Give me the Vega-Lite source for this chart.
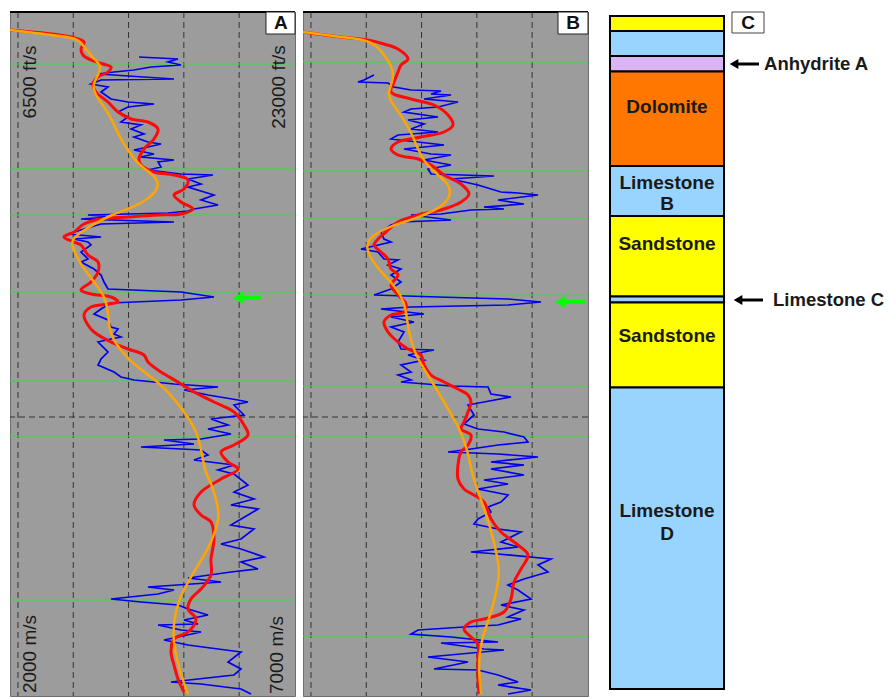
{
"$schema": "https://vega.github.io/schema/vega-lite/v6.json",
"background": "white",
"padding": {"left": 3, "top": 10, "right": 0, "bottom": 0},
"autosize": {"type": "pad"},
"config": {"view": {"stroke": null}, "font": "Liberation Sans", "axis": {"labels": false, "domain": false, "grid": false, "ticks": true, "tickColor": "#555555", "tickSize": 4, "tickWidth": 1}},
"datasets": {
"grid": [{"v":2140},{"v":3110},{"v":4080},{"v":5050},{"v":6020}],
"greenA": [{"d":52},{"d":157},{"d":203},{"d":280},{"d":369},{"d":424},{"d":588}],
"greenB": [{"d":50},{"d":159},{"d":206},{"d":283},{"d":374},{"d":424},{"d":624}],
"marker": [{"d":405}],
"orangeA": [{"v":2000,"d":18},{"v":3070,"d":25},{"v":3211,"d":28},{"v":3333,"d":37},{"v":3474,"d":47},{"v":3597,"d":53},{"v":3561,"d":62},{"v":3474,"d":70},{"v":3456,"d":77},{"v":3544,"d":87},{"v":3719,"d":100},{"v":3860,"d":117},{"v":4000,"d":133},{"v":4175,"d":147},{"v":4351,"d":157},{"v":4526,"d":163},{"v":4614,"d":172},{"v":4561,"d":180},{"v":4351,"d":190},{"v":4070,"d":197},{"v":3772,"d":203},{"v":3474,"d":212},{"v":3246,"d":220},{"v":3070,"d":228},{"v":3105,"d":237},{"v":3246,"d":253},{"v":3474,"d":270},{"v":3649,"d":283},{"v":3719,"d":297},{"v":3737,"d":317},{"v":3825,"d":330},{"v":4070,"d":347},{"v":4351,"d":360},{"v":4597,"d":370},{"v":4825,"d":383},{"v":5053,"d":400},{"v":5211,"d":413},{"v":5316,"d":427},{"v":5386,"d":447},{"v":5421,"d":460},{"v":5526,"d":470},{"v":5649,"d":493},{"v":5667,"d":507},{"v":5579,"d":523},{"v":5474,"d":537},{"v":5298,"d":553},{"v":5123,"d":570},{"v":4965,"d":587},{"v":4877,"d":607},{"v":4860,"d":627},{"v":4912,"d":643},{"v":5000,"d":663},{"v":5123,"d":682}],
"redA": [{"v":2000,"d":18},{"v":3070,"d":25},{"v":3298,"d":30},{"v":3246,"d":37},{"v":3281,"d":43},{"v":3421,"d":48},{"v":3632,"d":52},{"v":3772,"d":55},{"v":3719,"d":60},{"v":3544,"d":65},{"v":3456,"d":72},{"v":3509,"d":80},{"v":3719,"d":90},{"v":3895,"d":100},{"v":4123,"d":107},{"v":4421,"d":110},{"v":4597,"d":117},{"v":4526,"d":127},{"v":4351,"d":137},{"v":4263,"d":147},{"v":4298,"d":153},{"v":4526,"d":160},{"v":4877,"d":163},{"v":5123,"d":168},{"v":5053,"d":177},{"v":4877,"d":183},{"v":5000,"d":190},{"v":5211,"d":197},{"v":5000,"d":202},{"v":4597,"d":203},{"v":4070,"d":205},{"v":3597,"d":207},{"v":3298,"d":212},{"v":3123,"d":220},{"v":2947,"d":225},{"v":3123,"d":230},{"v":3246,"d":233},{"v":3368,"d":243},{"v":3544,"d":250},{"v":3544,"d":260},{"v":3421,"d":270},{"v":3246,"d":278},{"v":3421,"d":282},{"v":3772,"d":285},{"v":3895,"d":290},{"v":3719,"d":292},{"v":3421,"d":295},{"v":3298,"d":303},{"v":3368,"d":313},{"v":3474,"d":320},{"v":3772,"d":330},{"v":4070,"d":337},{"v":4351,"d":343},{"v":4421,"d":350},{"v":4649,"d":360},{"v":4947,"d":370},{"v":5228,"d":380},{"v":5579,"d":390},{"v":5930,"d":400},{"v":6105,"d":413},{"v":6175,"d":423},{"v":5930,"d":433},{"v":5702,"d":440},{"v":5825,"d":450},{"v":6000,"d":457},{"v":5702,"d":467},{"v":5351,"d":480},{"v":5228,"d":493},{"v":5351,"d":503},{"v":5526,"d":510},{"v":5579,"d":527},{"v":5526,"d":547},{"v":5526,"d":563},{"v":5351,"d":577},{"v":5175,"d":587},{"v":5123,"d":597},{"v":5263,"d":607},{"v":5123,"d":620},{"v":4877,"d":627},{"v":4825,"d":640},{"v":4877,"d":653},{"v":4947,"d":667},{"v":5053,"d":680}],
"blueA": [{"v":4263,"d":45},{"v":4947,"d":47},{"v":4772,"d":50},{"v":5000,"d":53},{"v":4474,"d":55},{"v":4175,"d":58},{"v":3825,"d":60},{"v":3544,"d":62},{"v":4877,"d":67},{"v":3597,"d":68},{"v":3421,"d":72},{"v":3719,"d":75},{"v":3597,"d":80},{"v":3772,"d":87},{"v":4070,"d":90},{"v":4526,"d":92},{"v":4070,"d":95},{"v":3895,"d":100},{"v":4070,"d":105},{"v":3947,"d":110},{"v":4298,"d":113},{"v":4123,"d":117},{"v":4351,"d":122},{"v":4175,"d":125},{"v":4421,"d":130},{"v":4649,"d":132},{"v":4421,"d":135},{"v":4175,"d":138},{"v":4526,"d":142},{"v":4298,"d":145},{"v":4877,"d":148},{"v":4597,"d":150},{"v":4649,"d":155},{"v":4421,"d":158},{"v":5000,"d":162},{"v":5561,"d":163},{"v":5123,"d":167},{"v":5351,"d":172},{"v":5123,"d":175},{"v":5579,"d":183},{"v":5351,"d":188},{"v":5649,"d":193},{"v":5228,"d":197},{"v":5123,"d":199},{"v":4772,"d":201},{"v":4070,"d":202},{"v":3368,"d":203},{"v":3772,"d":205},{"v":3246,"d":207},{"v":4877,"d":210},{"v":3597,"d":212},{"v":3298,"d":217},{"v":3018,"d":222},{"v":3597,"d":225},{"v":3123,"d":227},{"v":3368,"d":230},{"v":3421,"d":233},{"v":3246,"d":240},{"v":3368,"d":247},{"v":3246,"d":250},{"v":3474,"d":257},{"v":3597,"d":263},{"v":3649,"d":270},{"v":3719,"d":277},{"v":5000,"d":280},{"v":5579,"d":285},{"v":5000,"d":288},{"v":4175,"d":290},{"v":3772,"d":291},{"v":3597,"d":297},{"v":3474,"d":302},{"v":3719,"d":308},{"v":3772,"d":315},{"v":3895,"d":317},{"v":3825,"d":322},{"v":3947,"d":325},{"v":3772,"d":327},{"v":3544,"d":330},{"v":3719,"d":340},{"v":3597,"d":347},{"v":3544,"d":353},{"v":3825,"d":360},{"v":3947,"d":365},{"v":4175,"d":368},{"v":4877,"d":372},{"v":5649,"d":375},{"v":5053,"d":378},{"v":5474,"d":383},{"v":6000,"d":388},{"v":6175,"d":390},{"v":5930,"d":393},{"v":6105,"d":403},{"v":5526,"d":407},{"v":5825,"d":413},{"v":5474,"d":417},{"v":5877,"d":422},{"v":5351,"d":427},{"v":4702,"d":428},{"v":5228,"d":432},{"v":4298,"d":435},{"v":5351,"d":438},{"v":5474,"d":443},{"v":5228,"d":448},{"v":5930,"d":453},{"v":5649,"d":458},{"v":5930,"d":462},{"v":6175,"d":473},{"v":5930,"d":480},{"v":6281,"d":487},{"v":5877,"d":493},{"v":6351,"d":497},{"v":6175,"d":503},{"v":5877,"d":513},{"v":6281,"d":517},{"v":6053,"d":527},{"v":5702,"d":532},{"v":6053,"d":537},{"v":6456,"d":545},{"v":6053,"d":550},{"v":6351,"d":557},{"v":5877,"d":560},{"v":5123,"d":566},{"v":5702,"d":570},{"v":4421,"d":575},{"v":4877,"d":578},{"v":4597,"d":582},{"v":3772,"d":587},{"v":4298,"d":590},{"v":4947,"d":593},{"v":5123,"d":597},{"v":5474,"d":603},{"v":5053,"d":608},{"v":5298,"d":612},{"v":4597,"d":613},{"v":5000,"d":618},{"v":5351,"d":620},{"v":4702,"d":628},{"v":5123,"d":633},{"v":5649,"d":637},{"v":6053,"d":640},{"v":5825,"d":650},{"v":6053,"d":657},{"v":5930,"d":663},{"v":4825,"d":670},{"v":5351,"d":672},{"v":6053,"d":677},{"v":6228,"d":682}],
"orangeB": [{"v":2000,"d":20},{"v":2667,"d":25},{"v":3140,"d":28},{"v":3316,"d":35},{"v":3421,"d":43},{"v":3544,"d":53},{"v":3597,"d":63},{"v":3544,"d":73},{"v":3491,"d":82},{"v":3544,"d":90},{"v":3719,"d":103},{"v":3895,"d":120},{"v":4018,"d":137},{"v":4123,"d":150},{"v":4368,"d":163},{"v":4561,"d":172},{"v":4597,"d":183},{"v":4474,"d":193},{"v":4246,"d":200},{"v":3947,"d":207},{"v":3597,"d":213},{"v":3316,"d":220},{"v":3158,"d":227},{"v":3105,"d":235},{"v":3193,"d":247},{"v":3368,"d":260},{"v":3544,"d":270},{"v":3719,"d":283},{"v":3807,"d":297},{"v":3842,"d":317},{"v":3947,"d":340},{"v":4123,"d":357},{"v":4298,"d":373},{"v":4474,"d":390},{"v":4649,"d":407},{"v":4772,"d":420},{"v":4895,"d":440},{"v":4947,"d":458},{"v":5070,"d":480},{"v":5246,"d":507},{"v":5351,"d":530},{"v":5439,"d":553},{"v":5439,"d":567},{"v":5351,"d":590},{"v":5246,"d":610},{"v":5158,"d":623},{"v":5088,"d":643},{"v":5088,"d":663},{"v":5123,"d":682}],
"redB": [{"v":2000,"d":20},{"v":2667,"d":25},{"v":3140,"d":28},{"v":3421,"d":32},{"v":3667,"d":37},{"v":3842,"d":47},{"v":3719,"d":53},{"v":3667,"d":60},{"v":3597,"d":70},{"v":3544,"d":80},{"v":3895,"d":87},{"v":4298,"d":93},{"v":4544,"d":103},{"v":4632,"d":113},{"v":4474,"d":120},{"v":4070,"d":125},{"v":3667,"d":130},{"v":3544,"d":137},{"v":3667,"d":143},{"v":4018,"d":147},{"v":4246,"d":153},{"v":4474,"d":163},{"v":4772,"d":172},{"v":4912,"d":182},{"v":4772,"d":190},{"v":4474,"d":197},{"v":4018,"d":203},{"v":3667,"d":210},{"v":3456,"d":220},{"v":3316,"d":227},{"v":3246,"d":233},{"v":3368,"d":240},{"v":3491,"d":247},{"v":3544,"d":257},{"v":3667,"d":263},{"v":3544,"d":273},{"v":3667,"d":283},{"v":3807,"d":292},{"v":3772,"d":300},{"v":3544,"d":303},{"v":3421,"d":310},{"v":3491,"d":320},{"v":3667,"d":330},{"v":3842,"d":337},{"v":4070,"d":343},{"v":4123,"d":353},{"v":4246,"d":363},{"v":4474,"d":370},{"v":4719,"d":377},{"v":4895,"d":383},{"v":4947,"d":390},{"v":4895,"d":400},{"v":4825,"d":410},{"v":4772,"d":417},{"v":4947,"d":423},{"v":4895,"d":433},{"v":4772,"d":440},{"v":4719,"d":453},{"v":4719,"d":467},{"v":4825,"d":477},{"v":5000,"d":483},{"v":5175,"d":490},{"v":5298,"d":507},{"v":5474,"d":520},{"v":5772,"d":533},{"v":5947,"d":543},{"v":5825,"d":557},{"v":5702,"d":570},{"v":5649,"d":587},{"v":5526,"d":600},{"v":5175,"d":607},{"v":4947,"d":610},{"v":4825,"d":617},{"v":4947,"d":625},{"v":5070,"d":632},{"v":5070,"d":647},{"v":5070,"d":667},{"v":5088,"d":682}],
"blueB": [{"v":3246,"d":63},{"v":3070,"d":68},{"v":2965,"d":70},{"v":3491,"d":71},{"v":3597,"d":75},{"v":3895,"d":78},{"v":4421,"d":79},{"v":4246,"d":82},{"v":4597,"d":83},{"v":4123,"d":87},{"v":4719,"d":90},{"v":4368,"d":95},{"v":3895,"d":97},{"v":3772,"d":100},{"v":4368,"d":105},{"v":3842,"d":108},{"v":4123,"d":112},{"v":3895,"d":117},{"v":4368,"d":120},{"v":3667,"d":123},{"v":3544,"d":127},{"v":4018,"d":130},{"v":4474,"d":133},{"v":3772,"d":137},{"v":4246,"d":142},{"v":4597,"d":143},{"v":4123,"d":148},{"v":4597,"d":153},{"v":4193,"d":157},{"v":4246,"d":162},{"v":5351,"d":164},{"v":4597,"d":167},{"v":5070,"d":173},{"v":5298,"d":177},{"v":5474,"d":180},{"v":5772,"d":181},{"v":6123,"d":183},{"v":5421,"d":188},{"v":5877,"d":192},{"v":5175,"d":195},{"v":5526,"d":197},{"v":4947,"d":198},{"v":4421,"d":202},{"v":3895,"d":203},{"v":4597,"d":208},{"v":3719,"d":210},{"v":3544,"d":213},{"v":3368,"d":220},{"v":3421,"d":227},{"v":3544,"d":230},{"v":3018,"d":237},{"v":3316,"d":240},{"v":3421,"d":247},{"v":3667,"d":248},{"v":3491,"d":253},{"v":3719,"d":257},{"v":3544,"d":263},{"v":3719,"d":270},{"v":3544,"d":277},{"v":3246,"d":283},{"v":4368,"d":285},{"v":5597,"d":287},{"v":6175,"d":290},{"v":5597,"d":293},{"v":3895,"d":295},{"v":3368,"d":297},{"v":4123,"d":302},{"v":3544,"d":305},{"v":3947,"d":310},{"v":3544,"d":315},{"v":3772,"d":320},{"v":3667,"d":330},{"v":3719,"d":337},{"v":4298,"d":338},{"v":3842,"d":343},{"v":4123,"d":348},{"v":3719,"d":353},{"v":3895,"d":360},{"v":3667,"d":363},{"v":3895,"d":368},{"v":3719,"d":370},{"v":4597,"d":374},{"v":5246,"d":375},{"v":5298,"d":382},{"v":5649,"d":385},{"v":5175,"d":390},{"v":4895,"d":393},{"v":5000,"d":403},{"v":4825,"d":412},{"v":5070,"d":417},{"v":5526,"d":420},{"v":5877,"d":425},{"v":5947,"d":430},{"v":5421,"d":433},{"v":4947,"d":437},{"v":4544,"d":440},{"v":5421,"d":442},{"v":6123,"d":445},{"v":5298,"d":450},{"v":5877,"d":453},{"v":5298,"d":457},{"v":5877,"d":463},{"v":5175,"d":468},{"v":5597,"d":472},{"v":5070,"d":477},{"v":5597,"d":483},{"v":5474,"d":490},{"v":5246,"d":495},{"v":5298,"d":500},{"v":5070,"d":507},{"v":5000,"d":512},{"v":5421,"d":517},{"v":5825,"d":520},{"v":5474,"d":530},{"v":5772,"d":535},{"v":4947,"d":540},{"v":5421,"d":542},{"v":6351,"d":547},{"v":6123,"d":553},{"v":6298,"d":560},{"v":5877,"d":567},{"v":5597,"d":573},{"v":5772,"d":578},{"v":6000,"d":587},{"v":5474,"d":593},{"v":5877,"d":598},{"v":5597,"d":605},{"v":5825,"d":607},{"v":5421,"d":613},{"v":4825,"d":615},{"v":4018,"d":618},{"v":3895,"d":622},{"v":4597,"d":625},{"v":5421,"d":630},{"v":4421,"d":631},{"v":5175,"d":637},{"v":5526,"d":638},{"v":4193,"d":645},{"v":4895,"d":650},{"v":4298,"d":657},{"v":5070,"d":658},{"v":5421,"d":663},{"v":5772,"d":670},{"v":5421,"d":673},{"v":6000,"d":678},{"v":5597,"d":682}],
"scaleLabels": [{"t":"6500 ft/s","v":2351,"d":70},{"t":"23000 ft/s","v":6719,"d":75},{"t":"2000 m/s","v":2351,"d":642},{"t":"7000 m/s","v":6684,"d":643}],
"litho": [{"lith":"Sandstone","top":4,"base":19},{"lith":"Limestone","top":19,"base":44},{"lith":"Anhydrite","top":44,"base":59.5},{"lith":"Dolomite","top":59.5,"base":154},{"lith":"Limestone","top":154,"base":204},{"lith":"Sandstone","top":204,"base":284.5},{"lith":"Limestone","top":284.5,"base":290.5},{"lith":"Sandstone","top":290.5,"base":375.5},{"lith":"Limestone","top":375.5,"base":677}],
"lithoLabels": [{"t":"Dolomite","d":95},{"t":"Limestone","d":171},{"t":"B","d":192},{"t":"Sandstone","d":232},{"t":"Sandstone","d":324},{"t":"Limestone","d":499},{"t":"D","d":522}]
},
"spacing": 8,
"bounds": "flush",
"resolve": {"scale": {"x": "independent", "y": "independent", "color": "independent"}},
"hconcat": [
{
"width": 285, "height": 684,
"view": {"fill": "#9c9c9c", "stroke": "#6e6e6e"},
"layer": [
{"data": {"name": "grid"}, "mark": {"type": "rule", "color": "#333333", "strokeWidth": 1, "strokeDash": [6, 4]},
 "encoding": {"x": {"field": "v", "type": "quantitative", "title": null, "scale": {"domain": [2000, 7000], "nice": false, "zero": false}, "axis": {"orient": "bottom", "values": [2140, 2625, 3110, 3595, 4080, 4565, 5050, 5535, 6020, 6505], "tickSize": 3}}}},
{"data": {"name": "greenA"}, "mark": {"type": "rule", "color": "#3ed63e", "strokeWidth": 1},
 "encoding": {"y": {"field": "d", "type": "quantitative", "title": null, "scale": {"domain": [0, 684], "reverse": true, "nice": false, "zero": false}, "axis": {"orient": "right", "values": [4.4,18.2,32,45.8,59.6,73.4,87.2,101,114.8,128.6,142.4,156.2,170,183.8,197.6,211.4,225.2,239,252.8,266.6,280.4,294.2,308,321.8,335.6,349.4,363.2,377,390.8,404.6,418.4,432.2,446,459.8,473.6,487.4,501.2,515,528.8,542.6,556.4,570.2,584,597.8,611.6,625.4,639.2,653,666.8,680.6]}}}},
{"data": {"name": "marker"}, "mark": {"type": "rule", "color": "#333333", "strokeWidth": 1, "strokeDash": [6, 4]},
 "encoding": {"y": {"field": "d", "type": "quantitative", "title": null, "axis": null}}},
{"data": {"name": "marker"}, "mark": {"type": "rule", "color": "#000000", "strokeWidth": 2},
 "encoding": {"y": {"datum": 0, "type": "quantitative", "axis": null}}},
{"data": {"name": "blueA"}, "mark": {"type": "line", "color": "#0000ee", "strokeWidth": 1.7},
 "encoding": {"x": {"field": "v", "type": "quantitative", "axis": null}, "y": {"field": "d", "type": "quantitative", "axis": null}, "order": {"field": "d"}}},
{"data": {"name": "redA"}, "mark": {"type": "line", "color": "#ff0a0a", "strokeWidth": 3, "interpolate": "catmull-rom"},
 "encoding": {"x": {"field": "v", "type": "quantitative", "axis": null}, "y": {"field": "d", "type": "quantitative", "axis": null}, "order": {"field": "d"}}},
{"data": {"name": "orangeA"}, "mark": {"type": "line", "color": "#ffa500", "strokeWidth": 2.5, "interpolate": "basis"},
 "encoding": {"x": {"field": "v", "type": "quantitative", "axis": null}, "y": {"field": "d", "type": "quantitative", "axis": null}, "order": {"field": "d"}}},
{"data": {"name": "marker"}, "mark": {"type": "rule", "color": "#00ff00", "strokeWidth": 4},
 "encoding": {"x": {"datum": 6053, "type": "quantitative", "axis": null}, "x2": {"datum": 6404}, "y": {"datum": 286, "type": "quantitative", "axis": null}}},
{"data": {"name": "marker"}, "mark": {"type": "point", "shape": "triangle-left", "filled": true, "color": "#00ff00", "size": 140, "opacity": 1},
 "encoding": {"x": {"datum": 6000, "type": "quantitative", "axis": null}, "y": {"datum": 286, "type": "quantitative", "axis": null}}},
{"data": {"name": "marker"}, "mark": {"type": "rect", "fill": "white", "stroke": "#222222", "strokeWidth": 1},
 "encoding": {"x": {"datum": 6491, "type": "quantitative", "axis": null}, "x2": {"datum": 7000}, "y": {"datum": 0, "type": "quantitative", "axis": null}, "y2": {"datum": 22}}},
{"data": {"name": "marker"}, "mark": {"type": "text", "text": "A", "fontSize": 19, "fontWeight": "bold", "color": "#111111", "align": "center", "baseline": "middle"},
 "encoding": {"x": {"datum": 6754, "type": "quantitative", "axis": null}, "y": {"datum": 11, "type": "quantitative", "axis": null}}},
{"data": {"name": "scaleLabels"}, "mark": {"type": "text", "angle": 270, "fontSize": 19, "color": "#1a1a1a", "align": "center", "baseline": "middle"},
 "encoding": {"x": {"field": "v", "type": "quantitative", "axis": null}, "y": {"field": "d", "type": "quantitative", "axis": null}, "text": {"field": "t"}}}
]
},
{
"width": 285, "height": 684,
"view": {"fill": "#9c9c9c", "stroke": "#6e6e6e"},
"layer": [
{"data": {"name": "grid"}, "mark": {"type": "rule", "color": "#333333", "strokeWidth": 1, "strokeDash": [6, 4]},
 "encoding": {"x": {"field": "v", "type": "quantitative", "title": null, "scale": {"domain": [2000, 7000], "nice": false, "zero": false}, "axis": {"orient": "bottom", "values": [2140, 2625, 3110, 3595, 4080, 4565, 5050, 5535, 6020, 6505], "tickSize": 3}}}},
{"data": {"name": "greenB"}, "mark": {"type": "rule", "color": "#3ed63e", "strokeWidth": 1},
 "encoding": {"y": {"field": "d", "type": "quantitative", "title": null, "scale": {"domain": [0, 684], "reverse": true, "nice": false, "zero": false}, "axis": {"orient": "right", "values": [4.4,18.2,32,45.8,59.6,73.4,87.2,101,114.8,128.6,142.4,156.2,170,183.8,197.6,211.4,225.2,239,252.8,266.6,280.4,294.2,308,321.8,335.6,349.4,363.2,377,390.8,404.6,418.4,432.2,446,459.8,473.6,487.4,501.2,515,528.8,542.6,556.4,570.2,584,597.8,611.6,625.4,639.2,653,666.8,680.6]}}}},
{"data": {"name": "marker"}, "mark": {"type": "rule", "color": "#333333", "strokeWidth": 1, "strokeDash": [6, 4]},
 "encoding": {"y": {"field": "d", "type": "quantitative", "title": null, "axis": null}}},
{"data": {"name": "marker"}, "mark": {"type": "rule", "color": "#000000", "strokeWidth": 2},
 "encoding": {"y": {"datum": 0, "type": "quantitative", "axis": null}}},
{"data": {"name": "blueB"}, "mark": {"type": "line", "color": "#0000ee", "strokeWidth": 1.7},
 "encoding": {"x": {"field": "v", "type": "quantitative", "axis": null}, "y": {"field": "d", "type": "quantitative", "axis": null}, "order": {"field": "d"}}},
{"data": {"name": "redB"}, "mark": {"type": "line", "color": "#ff0a0a", "strokeWidth": 3, "interpolate": "catmull-rom"},
 "encoding": {"x": {"field": "v", "type": "quantitative", "axis": null}, "y": {"field": "d", "type": "quantitative", "axis": null}, "order": {"field": "d"}}},
{"data": {"name": "orangeB"}, "mark": {"type": "line", "color": "#ffa500", "strokeWidth": 2.5, "interpolate": "basis"},
 "encoding": {"x": {"field": "v", "type": "quantitative", "axis": null}, "y": {"field": "d", "type": "quantitative", "axis": null}, "order": {"field": "d"}}},
{"data": {"name": "marker"}, "mark": {"type": "rule", "color": "#00ff00", "strokeWidth": 4},
 "encoding": {"x": {"datum": 6561, "type": "quantitative", "axis": null}, "x2": {"datum": 6965}, "y": {"datum": 290, "type": "quantitative", "axis": null}}},
{"data": {"name": "marker"}, "mark": {"type": "point", "shape": "triangle-left", "filled": true, "color": "#00ff00", "size": 140, "opacity": 1},
 "encoding": {"x": {"datum": 6509, "type": "quantitative", "axis": null}, "y": {"datum": 290, "type": "quantitative", "axis": null}}},
{"data": {"name": "marker"}, "mark": {"type": "rect", "fill": "white", "stroke": "#222222", "strokeWidth": 1},
 "encoding": {"x": {"datum": 6474, "type": "quantitative", "axis": null}, "x2": {"datum": 7000}, "y": {"datum": 0, "type": "quantitative", "axis": null}, "y2": {"datum": 22}}},
{"data": {"name": "marker"}, "mark": {"type": "text", "text": "B", "fontSize": 19, "fontWeight": "bold", "color": "#111111", "align": "center", "baseline": "middle"},
 "encoding": {"x": {"datum": 6737, "type": "quantitative", "axis": null}, "y": {"datum": 11, "type": "quantitative", "axis": null}}}
]
},
{
"width": 294, "height": 684,
"layer": [
{"data": {"name": "litho"}, "mark": {"type": "rect", "stroke": "#000000", "strokeWidth": 2},
 "encoding": {"x": {"datum": 0, "type": "quantitative", "scale": {"domain": [-0.1228, 2.4561], "nice": false, "zero": false}, "axis": null}, "x2": {"datum": 1},
  "y": {"field": "top", "type": "quantitative", "scale": {"domain": [0, 684], "reverse": true, "nice": false, "zero": false}, "axis": null}, "y2": {"field": "base"},
  "color": {"field": "lith", "type": "nominal", "scale": {"domain": ["Sandstone", "Limestone", "Anhydrite", "Dolomite"], "range": ["#ffff00", "#99d3ff", "#dab4f3", "#ff7700"]}, "legend": null}}},
{"data": {"name": "lithoLabels"}, "mark": {"type": "text", "fontSize": 19, "fontWeight": "bold", "color": "#1a1a1a", "align": "center", "baseline": "middle"},
 "encoding": {"x": {"datum": 0.5, "type": "quantitative", "axis": null}, "y": {"field": "d", "type": "quantitative", "axis": null}, "text": {"field": "t"}}},
{"data": {"name": "marker"}, "mark": {"type": "rule", "color": "#000000", "strokeWidth": 3},
 "encoding": {"x": {"datum": 1.12, "type": "quantitative", "axis": null}, "x2": {"datum": 1.307}, "y": {"datum": 52, "type": "quantitative", "axis": null}}},
{"data": {"name": "marker"}, "mark": {"type": "point", "shape": "triangle-left", "filled": true, "color": "#000000", "size": 100, "opacity": 1},
 "encoding": {"x": {"datum": 1.088, "type": "quantitative", "axis": null}, "y": {"datum": 52, "type": "quantitative", "axis": null}}},
{"data": {"name": "marker"}, "mark": {"type": "text", "text": "Anhydrite A", "fontSize": 18.5, "fontWeight": "bold", "color": "#1a1a1a", "align": "left", "baseline": "middle"},
 "encoding": {"x": {"datum": 1.351, "type": "quantitative", "axis": null}, "y": {"datum": 52, "type": "quantitative", "axis": null}}},
{"data": {"name": "marker"}, "mark": {"type": "rule", "color": "#000000", "strokeWidth": 3},
 "encoding": {"x": {"datum": 1.15, "type": "quantitative", "axis": null}, "x2": {"datum": 1.342}, "y": {"datum": 288, "type": "quantitative", "axis": null}}},
{"data": {"name": "marker"}, "mark": {"type": "point", "shape": "triangle-left", "filled": true, "color": "#000000", "size": 100, "opacity": 1},
 "encoding": {"x": {"datum": 1.123, "type": "quantitative", "axis": null}, "y": {"datum": 288, "type": "quantitative", "axis": null}}},
{"data": {"name": "marker"}, "mark": {"type": "text", "text": "Limestone C", "fontSize": 18.5, "fontWeight": "bold", "color": "#1a1a1a", "align": "left", "baseline": "middle"},
 "encoding": {"x": {"datum": 1.43, "type": "quantitative", "axis": null}, "y": {"datum": 288, "type": "quantitative", "axis": null}}},
{"data": {"name": "marker"}, "mark": {"type": "rect", "fill": "white", "stroke": "#444444", "strokeWidth": 1},
 "encoding": {"x": {"datum": 1.070, "type": "quantitative", "axis": null}, "x2": {"datum": 1.351}, "y": {"datum": 0, "type": "quantitative", "axis": null}, "y2": {"datum": 21}}},
{"data": {"name": "marker"}, "mark": {"type": "text", "text": "C", "fontSize": 19, "fontWeight": "bold", "color": "#111111", "align": "center", "baseline": "middle"},
 "encoding": {"x": {"datum": 1.211, "type": "quantitative", "axis": null}, "y": {"datum": 10.5, "type": "quantitative", "axis": null}}}
]
}
]
}
